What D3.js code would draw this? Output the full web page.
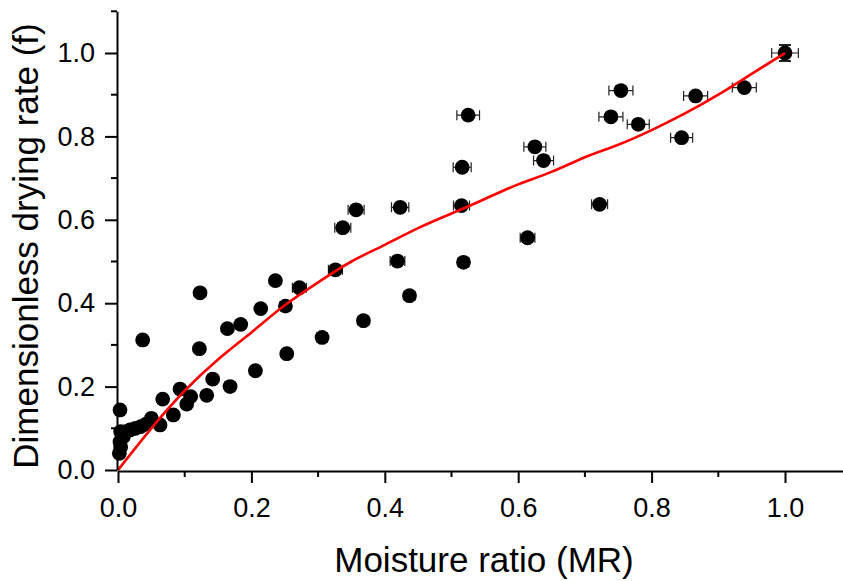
<!DOCTYPE html>
<html>
<head>
<meta charset="utf-8">
<script src="https://cdn.jsdelivr.net/npm/d3@7"></script>
<style>
  html, body { margin: 0; padding: 0; background: #fff; }
  svg { display: block; }
</style>
</head>
<body>
<div id="chart"></div>
<script>
// measured points: moisture ratio, dimensionless drying rate, x error
var mr = [1.000, 0.939, 0.866, 0.754, 0.739, 0.780, 0.845, 0.525, 0.516, 0.515,
          0.518, 0.625, 0.638, 0.722, 0.614, 0.357, 0.423, 0.337, 0.326, 0.419,
          0.272, 0.437, 0.368, 0.306, 0.253, 0.236, 0.251, 0.214, 0.184, 0.164,
          0.123, 0.122, 0.037, 0.206, 0.142, 0.168, 0.133, 0.093, 0.067, 0.109,
          0.103, 0.083, 0.063, 0.050, 0.003, 0.002, 0.004, 0.003, 0.008, 0.004,
          0.012, 0.018, 0.026, 0.034, 0.042];
var rate = [1.000, 0.917, 0.897, 0.910, 0.847, 0.829, 0.797, 0.851, 0.726, 0.634,
            0.498, 0.775, 0.742, 0.637, 0.557, 0.624, 0.630, 0.581, 0.480, 0.501,
            0.437, 0.418, 0.358, 0.318, 0.279, 0.454, 0.393, 0.387, 0.349, 0.339,
            0.425, 0.291, 0.312, 0.238, 0.218, 0.200, 0.179, 0.194, 0.170, 0.176,
            0.158, 0.132, 0.108, 0.124, 0.144, 0.040, 0.055, 0.068, 0.080, 0.092,
            0.092, 0.096, 0.100, 0.104, 0.110];
var mrErr = [0.020, 0.018, 0.018, 0.018, 0.018, 0.0165, 0.0165, 0.017, 0.0135, 0.012,
             0.008, 0.0165, 0.015, 0.012, 0.011, 0.012, 0.013, 0.012, 0.0105, 0.011,
             0.0105, 0.008, 0.008, 0.008, 0.006, 0.006, 0.008, 0.006, 0.005, 0.005,
             0.004, 0.004, 0.003, 0.005, 0.004, 0.004, 0.004, 0.003, 0.003, 0.003,
             0.003, 0.003, 0.002, 0.002, 0.001, 0.001, 0.001, 0.001, 0.001, 0.001,
             0.001, 0.001, 0.001, 0.001, 0.001];
var rateErr = [0.019];   // only the last point shows a vertical bar

// fitted curve
var fitMR = [0, 0.05, 0.1, 0.15, 0.2, 0.25, 0.3, 0.35, 0.4, 0.45, 0.5,
             0.55, 0.6, 0.65, 0.7, 0.75, 0.8, 0.85, 0.9, 0.95, 1.0];
var fitRate = [0, 0.10, 0.19, 0.265, 0.33, 0.395, 0.45, 0.50, 0.54, 0.58, 0.615,
               0.65, 0.685, 0.715, 0.75, 0.78, 0.815, 0.855, 0.90, 0.95, 1.0];

var xTicks = [0, 0.2, 0.4, 0.6, 0.8, 1.0];
var yTicks = [0, 0.2, 0.4, 0.6, 0.8, 1.0];
var minorTicks = [0.1, 0.3, 0.5, 0.7, 0.9, 1.1];

var width = 843, height = 581;

var x = d3.scaleLinear().domain([0, 1.1]).range([118, 118 + 1.1 * 667]);
var y = d3.scaleLinear().domain([0, 1.1]).range([470, 470 - 1.1 * 417]);

var svg = d3.select('#chart')
    .append('svg')
    .attr('width', width)
    .attr('height', height);

var points = mr.map(function(d, i){
    return {mr: d, rate: rate[i], ex: mrErr[i], ey: rateErr[i] || 0};
});

// error bars
var eb = svg.append('g')
    .attr('stroke', '#222')
    .attr('stroke-width', 1.2)
    .attr('fill', 'none');

eb.selectAll('path.xerr')
    .data(points)
    .enter()
    .append('path')
    .attr('class', 'xerr')
    .attr('d', function(d){
        var x0 = x(d.mr - d.ex), x1 = x(d.mr + d.ex), yy = y(d.rate);
        return 'M' + x0 + ',' + yy + 'H' + x1 +
               'M' + x0 + ',' + (yy - 5) + 'V' + (yy + 5) +
               'M' + x1 + ',' + (yy - 5) + 'V' + (yy + 5);
    });

eb.selectAll('path.yerr')
    .data(points.filter(function(d){ return d.ey > 0; }))
    .enter()
    .append('path')
    .attr('class', 'yerr')
    .attr('stroke-width', 2)
    .attr('d', function(d){
        var y0 = y(d.rate - d.ey), y1 = y(d.rate + d.ey), xx = x(d.mr);
        return 'M' + xx + ',' + y0 + 'V' + y1 +
               'M' + (xx - 6) + ',' + y0 + 'H' + (xx + 6) +
               'M' + (xx - 6) + ',' + y1 + 'H' + (xx + 6);
    });

// points
svg.append('g')
    .selectAll('circle')
    .data(points)
    .enter()
    .append('circle')
    .attr('cx', function(d){ return x(d.mr); })
    .attr('cy', function(d){ return y(d.rate); })
    .attr('r', 7.4)
    .attr('fill', '#000');

// fit line
var line = d3.line()
    .x(function(d){ return x(d[0]); })
    .y(function(d){ return y(d[1]); })
    .curve(d3.curveNatural);

svg.append('path')
    .datum(fitMR.map(function(d, i){ return [d, fitRate[i]]; }))
    .attr('d', line)
    .attr('fill', 'none')
    .attr('stroke', '#ff0000')
    .attr('stroke-width', 2.6);

// axes
var tickFont = '"Liberation Sans", Arial, sans-serif';

var xAxis = svg.append('g')
    .attr('transform', 'translate(0,' + 471 + ')')
    .call(d3.axisBottom(x).tickValues(xTicks).tickSize(12).tickSizeOuter(0)
        .tickPadding(15).tickFormat(d3.format('.1f')));

xAxis.append('g')
    .selectAll('line')
    .data(minorTicks)
    .enter()
    .append('line')
    .attr('x1', function(d){ return x(d); })
    .attr('x2', function(d){ return x(d); })
    .attr('y1', 0)
    .attr('y2', 6)
    .attr('stroke', '#000')
    .attr('stroke-width', 2);

var yAxis = svg.append('g')
    .attr('transform', 'translate(' + 117 + ',0)')
    .call(d3.axisLeft(y).tickValues(yTicks).tickSize(12).tickSizeOuter(0)
        .tickPadding(10).tickFormat(d3.format('.1f')));

yAxis.append('g')
    .selectAll('line')
    .data(minorTicks)
    .enter()
    .append('line')
    .attr('y1', function(d){ return y(d); })
    .attr('y2', function(d){ return y(d); })
    .attr('x1', 0)
    .attr('x2', -6)
    .attr('stroke', '#000')
    .attr('stroke-width', 2);

[xAxis, yAxis].forEach(function(g){
    g.select('.domain').attr('stroke-width', 2);
    g.selectAll('.tick line').attr('stroke-width', 2);
    g.selectAll('.tick text')
        .attr('font-family', tickFont)
        .attr('font-size', '27px')
        .attr('fill', '#000');
});

svg.append('text')
    .text('Moisture ratio (MR)')
    .attr('x', 484)
    .attr('y', 572)
    .attr('text-anchor', 'middle')
    .attr('font-family', tickFont)
    .attr('font-size', '35px')
    .attr('fill', '#000');

svg.append('text')
    .text('Dimensionless drying rate (f)')
    .attr('transform', 'translate(38,246) rotate(-90)')
    .attr('text-anchor', 'middle')
    .attr('font-family', tickFont)
    .attr('font-size', '35px')
    .attr('fill', '#000');
</script>
</body>
</html>
